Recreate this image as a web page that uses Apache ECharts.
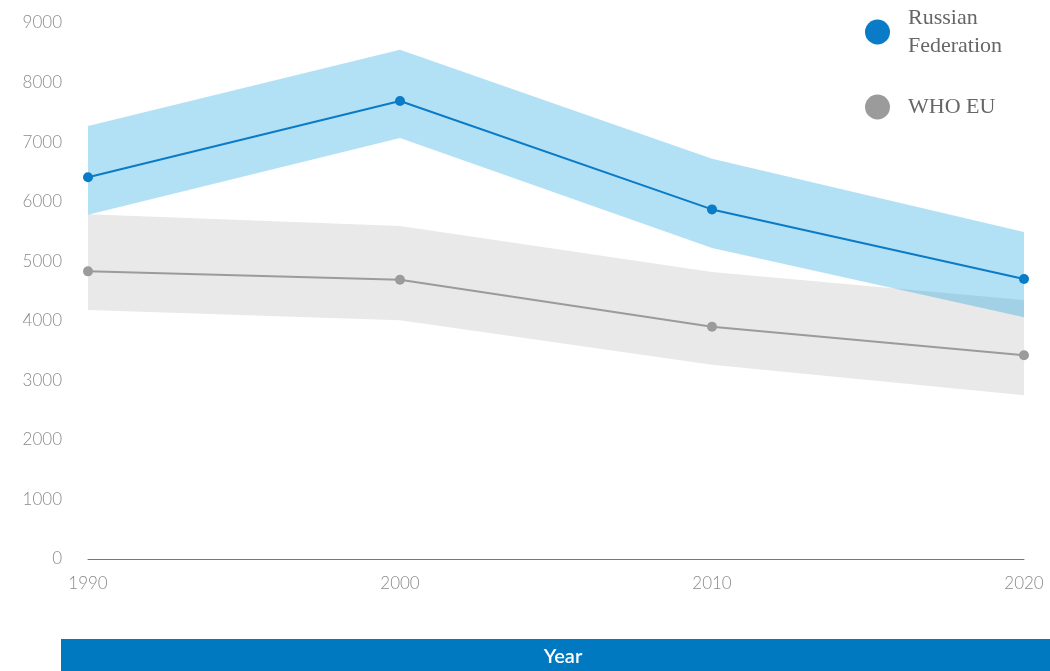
<!DOCTYPE html>
<html lang="en">
<head>
    <meta charset="UTF-8">
    <title>Russian Federation vs WHO EU</title>
    <script src="https://cdn.jsdelivr.net/npm/echarts@6/dist/echarts.min.js"></script>
    <style>
        body { margin: 0; padding: 0; background: #fff; }
        #chart { width: 1050px; height: 671px; }
    </style>
</head>
<body>
<div id="chart"></div>
<script>
// data
const years = ['1990', '2000', '2010', '2020'];
const rfValue = [6410, 7690, 5870, 4700];
const rfUpper = [7270, 8550, 6720, 5490];
const rfLower = [5780, 7070, 5220, 4060];
const euValue = [4830, 4690, 3900, 3420];
const euUpper = [5790, 5590, 4820, 4350];
const euLower = [4180, 4010, 3260, 2750];

const blue = '#0a7bc6';
const grey = '#9b9b9b';

const chart = echarts.init(document.getElementById('chart'));

// invisible lower line + stacked width = shaded band
function band(name, lower, upper, color) {
    return [
        {
            name: name + '_low', type: 'line', stack: name, data: lower,
            symbol: 'none', lineStyle: { opacity: 0 }, silent: true, z: 1
        },
        {
            name: name + '_band', type: 'line', stack: name,
            data: upper.map((v, i) => v - lower[i]),
            symbol: 'none', lineStyle: { opacity: 0 },
            areaStyle: { color: color, opacity: 1 }, silent: true, z: 1
        }
    ];
}

const axisFont = { color: '#8a8a8a', fontSize: 17, fontFamily: 'Lato', fontWeight: 300 };

chart.setOption({
    animation: false,
    grid: { left: 88, right: 26, top: 23, bottom: 112 },
    legend: {
        data: ['Russian Federation', 'WHO EU'],
        orient: 'vertical',
        left: 860, top: -4,
        icon: 'circle',
        itemWidth: 25, itemHeight: 25,
        itemGap: 27,
        formatter: n => n === 'Russian Federation' ? 'Russian\nFederation' : n,
        textStyle: { fontFamily: 'Liberation Serif', fontSize: 22, color: '#666', lineHeight: 28, padding: [6, 0, 0, 13] }
    },
    xAxis: {
        type: 'category', data: years, boundaryGap: false,
        axisLine: { lineStyle: { color: '#777', width: 1 } },
        axisTick: { show: false },
        axisLabel: Object.assign({ margin: 16 }, axisFont)
    },
    yAxis: {
        type: 'value', min: 0, max: 9000, interval: 1000,
        axisLine: { show: false }, axisTick: { show: false }, splitLine: { show: false },
        axisLabel: Object.assign({ margin: 26, formatter: v => String(v) }, axisFont)
    },
    graphic: [
        { type: 'rect', left: 61, top: 639, shape: { width: 989, height: 32 }, style: { fill: '#0079c1' } },
        { type: 'text', x: 563, y: 657, style: { text: 'Year', fill: '#fff', font: '600 20px Lato', align: 'center', verticalAlign: 'middle' } }
    ],
    series: [
        ...band('eu', euLower, euUpper, '#e9e9e9'),
        ...band('rf', rfLower, rfUpper, 'rgba(0,151,221,0.3)'),
        {
            name: 'WHO EU', type: 'line', data: euValue, z: 3,
            symbol: 'circle', symbolSize: 10,
            itemStyle: { color: grey }, lineStyle: { color: grey, width: 2 }
        },
        {
            name: 'Russian Federation', type: 'line', data: rfValue, z: 4,
            symbol: 'circle', symbolSize: 10,
            itemStyle: { color: blue }, lineStyle: { color: blue, width: 2 }
        }
    ]
});
</script>
</body>
</html>
